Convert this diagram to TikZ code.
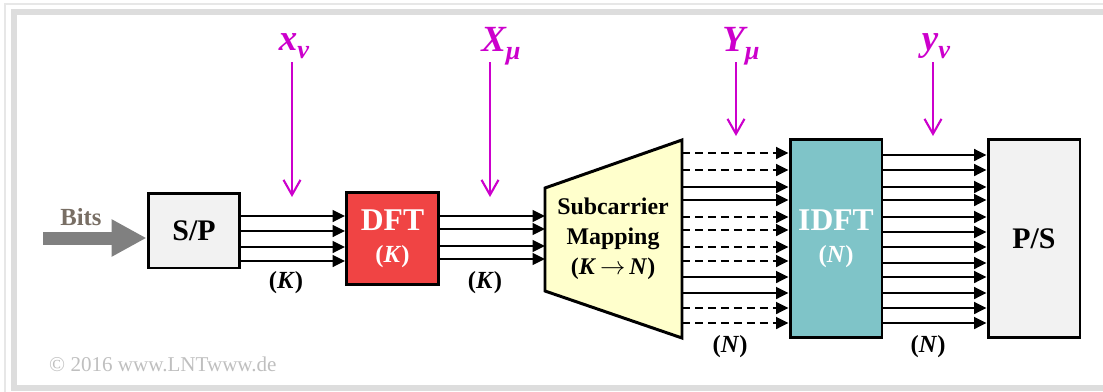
\documentclass[tikz,border=0pt]{standalone}
\usepackage{fontspec}
\setmainfont{Liberation Serif}
\usetikzlibrary{arrows.meta,positioning}
\definecolor{sigmagenta}{RGB}{204,0,204}
\definecolor{dftred}{RGB}{240,68,68}
\definecolor{idftteal}{RGB}{127,196,200}
\definecolor{mapyellow}{RGB}{255,255,204}
\definecolor{boxgrey}{RGB}{242,242,242}
\definecolor{framegrey}{RGB}{221,221,221}
\definecolor{bitsgrey}{RGB}{128,128,128}
\definecolor{bitstext}{RGB}{120,110,100}
\newcommand{\SigName}[2]{#1\raisebox{-0.45ex}{\fontsize{15}{15}\selectfont #2}}
\tikzset{
	block/.style={draw, line width=1.7pt, minimum width=1.84cm, font=\fontsize{17}{17}\selectfont\bfseries},
	lane/.style={line width=1pt, -{Triangle[length=0.25cm,width=0.24cm]}},
	gaplane/.style={dash pattern=on 0.16cm off 0.1cm},
	sig/.style={text=sigmagenta, font=\fontsize{21}{21}\selectfont\bfseries\itshape},
	sigarrow/.style={draw=sigmagenta, line width=1.2pt, -{Straight Barb[length=0.3cm,width=0.34cm]}},
	count/.style={font=\fontsize{14}{14}\selectfont\bfseries},
}
\begin{document}
\begin{tikzpicture}[x={(0.02cm,0)}, y={(0,-0.02cm)}]
	  \useasboundingbox (0,0) rectangle (1103,392);
	  % Frame
	  \draw[framegrey!70, line width=0.03cm] (1103,4) -- (5,4) -- (5,392);
	  \draw[framegrey, line width=0.12cm] (1103,12) -- (14,12) -- (14,388) -- (1103,388);

	  % Define nodes
	  \node[block, fill=boxgrey, minimum height=1.5cm]  (sp)   at (194,230.5) {S/P};
	  \node[block, fill=dftred, text=white, minimum height=1.86cm, align=center, font=\fontsize{18}{20}\selectfont\bfseries]
	                                                    (dft)  at (392.5,238.5) {DFT\\[-2pt]{\fontsize{14}{14}\selectfont(\textit{K})}};
	  \node[block, fill=idftteal, text=white, minimum height=3.98cm, align=center, font=\fontsize{18}{20}\selectfont\bfseries]
	                                                    (idft) at (836,238.5) {IDFT\\[-2pt]{\fontsize{14}{14}\selectfont(\textit{N})}};
	  \node[block, fill=boxgrey, minimum height=3.98cm] (ps)   at (1034,238.5) {P/S};

	  % Mapper
	  \draw[line width=1.7pt, fill=mapyellow] (545,188) -- (682,140) -- (682,338) -- (545,291) -- cycle;
	  \coordinate (mapl) at (545,240);
	  \coordinate (mapr) at (682,240);
	  \node[align=center, font=\fontsize{13.6}{17}\selectfont\bfseries] (map) at (613,239)
	    {Subcarrier\\Mapping\\(\textit{K}\,$\rightarrow$\,\textit{N})};

	  % Input bits
	  \coordinate (bitsin) at (43,238);
	  \node[text=bitstext, font=\fontsize{14}{14}\selectfont\bfseries] (bits) at (81,217) {Bits};
	  \draw[bitsgrey, line width=0.26cm, -{Triangle[length=0.7cm,width=0.7cm]}] (bitsin) -- (sp.west |- bitsin);

	  % Connect the nodes
	  \foreach \y in {216,231,247,261}
	    \draw[lane] (sp.east |- 0,\y) -- (dft.west |- 0,\y);
	  \foreach \y in {216,229,246,259}
	    \draw[lane] (dft.east |- 0,\y) -- (mapl |- 0,\y);
	  \foreach \y/\s in {153/gaplane,170/gaplane,187/solid,200/solid,217/gaplane,230/gaplane,
	                     247/gaplane,261/gaplane,277/solid,293/solid,308/gaplane,323/gaplane}
	    \draw[lane, \s] (mapr |- 0,\y) -- (idft.west |- 0,\y);
	  \foreach \y in {155,170,187,200,217,232,247,263,277,293,308,323}
	    \draw[lane] (idft.east |- 0,\y) -- (ps.west |- 0,\y);

	  % Lane counts
	  \node[count] (cntA) at (286,283) {(\textit{K})};
	  \node[count] (cntB) at (485,283) {(\textit{K})};
	  \node[count] (cntC) at (730,347) {(\textit{N})};
	  \node[count] (cntD) at (928,347) {(\textit{N})};

	  % Signals
	  \node[sig] (xnu) at (294,46) {\SigName{x}{ν}};
	  \node[sig] (Xmu) at (501,46) {\SigName{X}{μ}};
	  \node[sig] (Ymu) at (741,46) {\SigName{Y}{μ}};
	  \node[sig] (ynu) at (936,46) {\SigName{y}{ν}};
	  \coordinate (xnutip) at (292,197);
	  \coordinate (Xmutip) at (490,197);
	  \coordinate (Ymutip) at (736,136);
	  \coordinate (ynutip) at (933,136);
	  \foreach \s in {xnu,Xmu,Ymu,ynu}
	    \draw[sigarrow] (\s tip |- 0,62) -- (\s tip);

	  % Copyright
	  \node[text=black!25, font=\fontsize{12}{12}\selectfont, anchor=west] (copy) at (43,364) {© 2016 www.LNTwww.de};
	\end{tikzpicture}
\end{document}
